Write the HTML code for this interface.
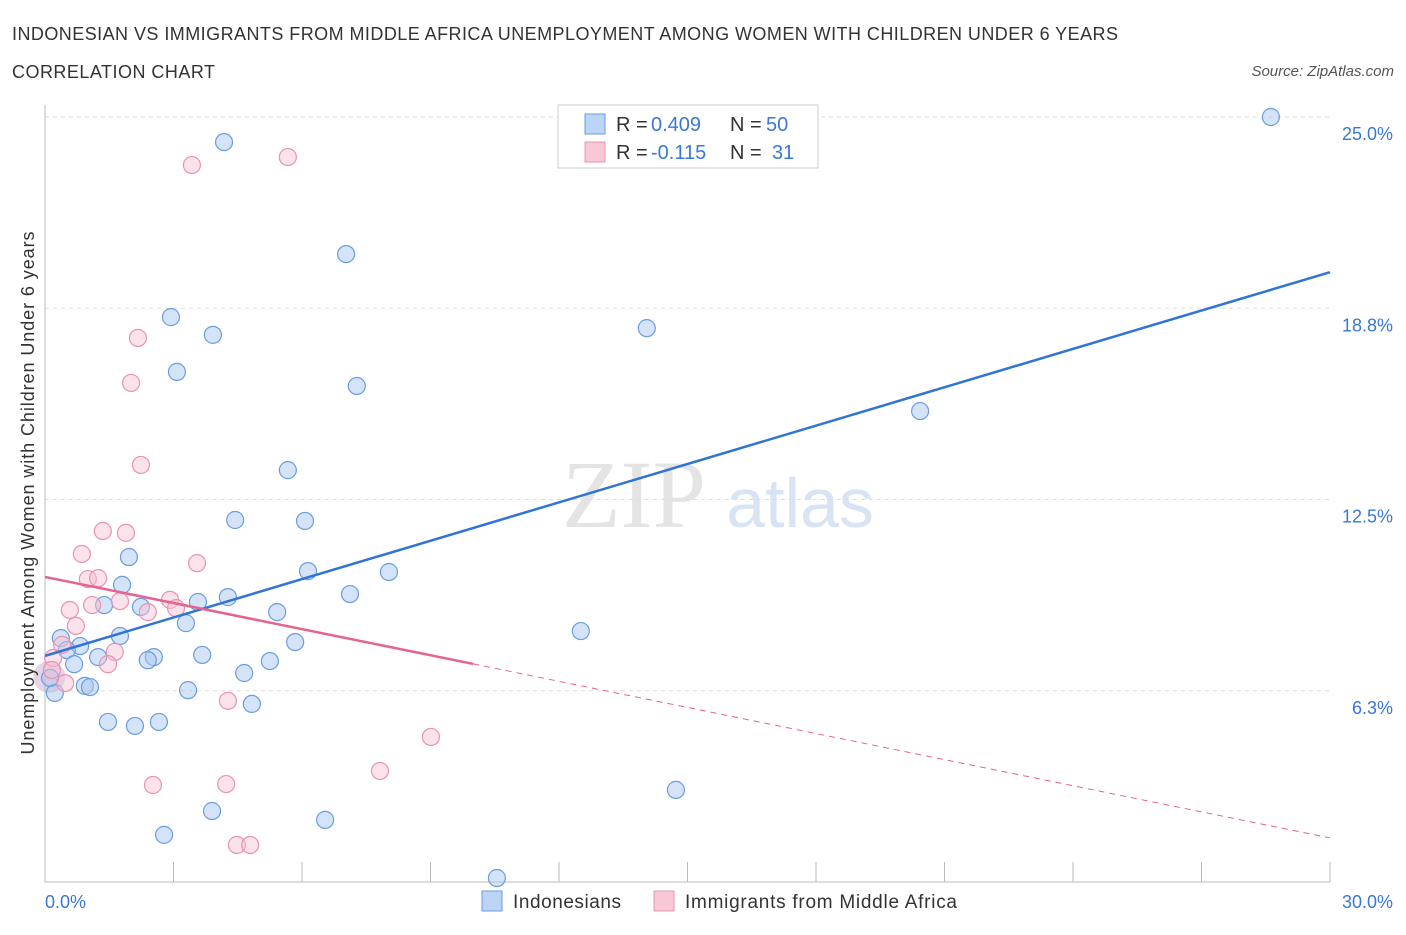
<!DOCTYPE html>
<html><head><meta charset="utf-8"><style>
body{margin:0;background:#fff;font-family:"Liberation Sans",sans-serif;}
</style></head><body>
<svg width="1406" height="930" xmlns="http://www.w3.org/2000/svg" id="svg">
<text x="12" y="40" font-size="18" fill="#333" textLength="1106">INDONESIAN VS IMMIGRANTS FROM MIDDLE AFRICA UNEMPLOYMENT AMONG WOMEN WITH CHILDREN UNDER 6 YEARS</text>
<text x="12" y="78" font-size="18" fill="#333" textLength="203">CORRELATION CHART</text>
<text x="1394" y="76" font-size="15" fill="#555" font-style="italic" text-anchor="end">Source: ZipAtlas.com</text>
<text x="634" y="527" font-size="96" fill="#e4e4e4" font-family="Liberation Serif" text-anchor="middle">ZIP</text>
<text x="800" y="527" font-size="70" fill="#d8e4f4" text-anchor="middle">atlas</text>
<g id="grid"></g><g id="marks"></g>
<text transform="translate(34,493) rotate(-90)" font-size="18" fill="#333" text-anchor="middle" textLength="523">Unemployment Among Women with Children Under 6 years</text>
<text x="45" y="908" font-size="18" fill="#3a78d4">0.0%</text>
<text x="1393" y="908" font-size="18" fill="#3a78d4" text-anchor="end">30.0%</text>
<g>
<rect x="558" y="105" width="260" height="63" fill="#fff" stroke="#ccc"/>
<rect x="585" y="114" width="20" height="20" fill="#bcd5f5" stroke="#6a9de0"/>
<rect x="585" y="142" width="20" height="20" fill="#f9c8d6" stroke="#e894ae"/>
<text x="616" y="131" font-size="20" fill="#333">R =</text>
<text x="651" y="131" font-size="20" fill="#3a78d4">0.409</text>
<text x="730" y="131" font-size="20" fill="#333">N =</text>
<text x="766" y="131" font-size="20" fill="#3a78d4">50</text>
<text x="616" y="159" font-size="20" fill="#333">R =</text>
<text x="651" y="159" font-size="20" fill="#3a78d4">-0.115</text>
<text x="730" y="159" font-size="20" fill="#333">N =</text>
<text x="772" y="159" font-size="20" fill="#3a78d4">31</text>
</g>
<g>
<rect x="482" y="891" width="20" height="20" fill="#bcd5f5" stroke="#6a9de0"/>
<text x="513" y="908" font-size="19" fill="#333" textLength="108">Indonesians</text>
<rect x="654" y="891" width="20" height="20" fill="#f9c8d6" stroke="#e894ae"/>
<text x="685" y="908" font-size="19" fill="#333" textLength="272">Immigrants from Middle Africa</text>
</g>
</svg>
<script>
const yTicks=[6.25,12.5,18.75,25];
const yTickLabels=["6.3%","12.5%","18.8%","25.0%"];
const blueX=[4.18,28.62,7.03,2.94,3.92,14.05,3.08,7.28,20.43,5.67,4.44,6.07,1.96,6.14,8.03,1.80,7.12,1.38,2.24,4.27,3.57,5.42,3.29,1.75,0.37,5.84,0.82,0.51,1.24,2.54,2.40,3.67,0.68,5.25,4.65,0.93,1.05,3.34,0.23,4.83,1.47,2.10,2.66,12.51,14.73,3.90,6.54,2.78,10.55,0.12];
const blueY=[24.18,25.0,20.52,18.46,17.88,18.10,16.67,16.21,15.39,13.46,11.83,11.80,10.62,10.16,10.13,9.71,9.41,9.05,8.99,9.31,9.15,8.82,8.46,8.04,7.97,7.84,7.71,7.58,7.35,7.35,7.25,7.42,7.12,7.22,6.83,6.41,6.37,6.27,6.18,5.82,5.23,5.10,5.23,8.20,3.01,2.32,2.03,1.54,0.13,6.67];
const pinkX=[3.43,5.67,2.17,2.01,2.24,1.35,1.89,0.86,3.55,1.00,1.24,0.58,1.10,1.75,2.92,3.06,2.40,0.72,1.63,1.47,0.40,0.19,0.47,0.16,4.27,9.01,7.82,2.52,4.23,4.48,4.79];
const pinkY=[23.43,23.69,17.78,16.31,13.63,11.47,11.41,10.72,10.42,9.90,9.93,8.89,9.05,9.18,9.22,8.95,8.82,8.37,7.52,7.12,7.75,7.32,6.50,6.93,5.92,4.74,3.63,3.17,3.20,1.21,1.21];
const blueLine=[7.39,19.93];
const pinkLine=[9.97,1.44];
const pinkSolidEnd=10.0;
const X=v=>45+v/30*1285, Y=v=>882-v*30.6;
const NS="http://www.w3.org/2000/svg";
function mk(t,a,p){const e=document.createElementNS(NS,t);for(const k in a)e.setAttribute(k,a[k]);p.appendChild(e);return e;}
const grid=document.getElementById('grid'),marks=document.getElementById('marks');
yTicks.forEach((t,i)=>{const l=mk('line',{x1:45,x2:1330,y1:Y(t),y2:Y(t),stroke:'#ddd','stroke-dasharray':'4,4'},grid);


const tx=mk('text',{x:1393,y:Y(t)+23,'font-size':18,fill:'#3a78d4','text-anchor':'end'},grid);tx.textContent=yTickLabels[i];

});
const ax=mk('path',{d:'M45,105V882H1330',fill:'none',stroke:'#bbb'},grid);


for(let i=1;i<=10;i++){const t=mk('line',{x1:45+i*128.5,x2:45+i*128.5,y1:862,y2:882,stroke:'#bbb'},grid);

}
const blob=mk('circle',{cx:X(0.1),cy:Y(6.7),r:16,fill:'rgba(200,170,210,0.5)'},marks);


blueX.forEach((x,i)=>{const c=mk('circle',{cx:X(x),cy:Y(blueY[i]),r:8.5,fill:'rgba(170,200,240,0.5)',stroke:'#6a9de0','stroke-width':1.2},marks);

});
pinkX.forEach((x,i)=>{const c=mk('circle',{cx:X(x),cy:Y(pinkY[i]),r:8.5,fill:'rgba(248,190,208,0.45)',stroke:'#e894ae','stroke-width':1.2},marks);

});
const bl=mk('line',{x1:X(0),y1:Y(blueLine[0]),x2:X(30),y2:Y(blueLine[1]),stroke:'#2f74d6','stroke-width':2.5},marks);


const pm=y=>pinkLine[0]+(pinkLine[1]-pinkLine[0])*y/30;
const ps=mk('line',{x1:X(0),y1:Y(pinkLine[0]),x2:X(pinkSolidEnd),y2:Y(pm(pinkSolidEnd)),stroke:'#e6638f','stroke-width':2.5},marks);


const pd=mk('line',{x1:X(pinkSolidEnd),y1:Y(pm(pinkSolidEnd)),x2:X(30),y2:Y(pinkLine[1]),stroke:'#e6638f','stroke-width':1,'stroke-dasharray':'6,5'},marks);


</script>
</body></html>
